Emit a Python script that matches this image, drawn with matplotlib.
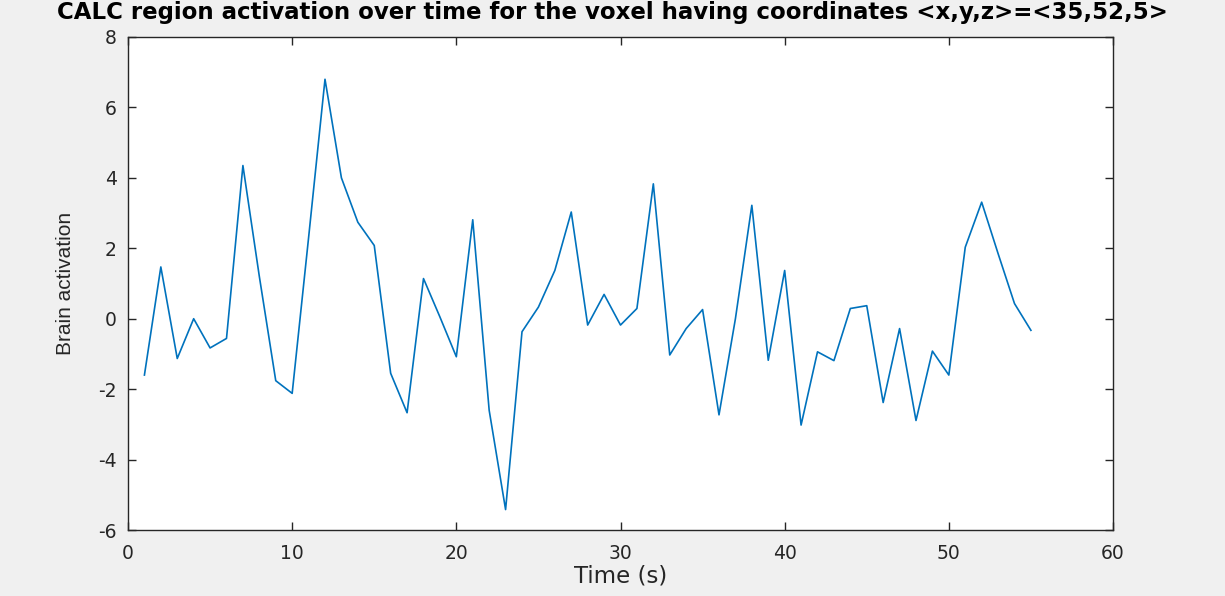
import matplotlib
matplotlib.use('Agg')
from matplotlib import pyplot as plt

plt.rcParams['font.family'] = ['DejaVu Sans']

# time points (s)
time_s = list(range(1, 56))
# activation values
activation = [-1.6, 1.47, -1.13, 0.0, -0.83, -0.56, 4.35, 1.2, -1.76, -2.12,
              2.3, 6.8, 4.0, 2.74, 2.08, -1.55, -2.67, 1.14, 0.05, -1.08,
              2.81, -2.6, -5.42, -0.37, 0.33, 1.37, 3.03, -0.18, 0.69, -0.18,
              0.29, 3.83, -1.03, -0.28, 0.26, -2.73, 0.0, 3.22, -1.18, 1.37,
              -3.02, -0.94, -1.19, 0.29, 0.37, -2.38, -0.28, -2.89, -0.92, -1.6,
              2.03, 3.31, 1.85, 0.43, -0.33]

x_ticks = [0, 10, 20, 30, 40, 50, 60]
y_ticks = [-6, -4, -2, 0, 2, 4, 6, 8]

W, H = 1225, 596
fig = plt.figure(figsize=(W / 100, H / 100), dpi=100, facecolor='#f0f0f0')
# axes box in pixels: left 128, right 1113, top 37, bottom 530
ax = fig.add_axes([128 / W, (H - 530) / H, (1113 - 128) / W, (530 - 37) / H])
ax.plot(time_s, activation, color='#0072BD', linewidth=1.2)

ax.set_xlim(0, 60)
ax.set_ylim(-6, 8)
ax.set_xticks(x_ticks)
ax.set_yticks(y_ticks)
ax.set_yticklabels([str(v) for v in y_ticks])
ax.tick_params(direction='in', length=6, width=1, colors='#262626',
               labelsize=13.5, top=True, right=True)
ax.tick_params(axis='x', pad=10)
ax.tick_params(axis='y', pad=8)
for s in ax.spines.values():
    s.set_color('#262626')
    s.set_linewidth(1)

ax.set_xlabel('Time (s)', fontsize=16.5, color='#262626', labelpad=1)
ax.set_ylabel('Brain activation', fontsize=15, color='#262626', labelpad=17,
              family='Liberation Sans')
fig.text(0.5, 1 - 13 / H,
         'CALC region activation over time for the voxel having coordinates <x,y,z>=<35,52,5>',
         ha='center', va='center', fontsize=16.5, fontweight='bold', color='black')

fig.savefig('out.png', dpi=100, facecolor=fig.get_facecolor())
